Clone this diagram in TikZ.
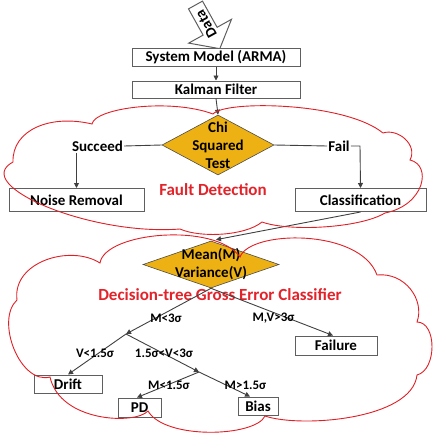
\documentclass[tikz,border=0pt]{standalone}
\usepackage{fontspec}
\setmainfont{Carlito}
\usetikzlibrary{shapes.geometric,arrows.meta,calc}
\definecolor{lnc}{HTML}{404040}
\definecolor{boxc}{HTML}{5F5F5F}
\definecolor{goldc}{HTML}{EDB113}
\definecolor{redc}{HTML}{E3232A}
\definecolor{cloudc}{HTML}{E01F25}
\begin{document}
\begin{tikzpicture}[x=1pt,y=-1pt,
  box/.style={draw=boxc, line width=1pt, fill=white, inner sep=0pt,
    font=\bfseries\fontsize{15}{18}\selectfont, text=black},
  conn/.style={draw=lnc, line width=0.9pt},
  arr/.style={conn, -{Triangle[length=5pt,width=5pt]}},
  lbl/.style={font=\bfseries\fontsize{15}{18}\selectfont, inner sep=1pt, text=black},
  sig/.style={font=\bfseries\fontsize{13}{15}\selectfont, inner sep=0pt, text=black},
  dia/.style={diamond, draw=black!70, line width=0.6pt, fill=goldc, inner sep=0pt},
  redt/.style={text=redc, font=\bfseries\fontsize{17}{20}\selectfont, inner sep=0pt},
  cloudline/.style={draw=cloudc, line width=0.9pt}]
\useasboundingbox (0,0) rectangle (433,436);

% Data block arrow
\draw[fill=white, draw=boxc, line width=1pt]
  (188.5,8.9) -- (202.5,1.1) -- (217.1,27.3) -- (231.5,19.3) -- (219.8,48.7)
  -- (188.7,43.1) -- (203.1,35.1) -- cycle;
\node[lbl, rotate=119] (data) at (206,24) {Data};

% top boxes
\node[box, minimum width=168pt, minimum height=17pt] (sys) at (216,57.5) {System Model (ARMA)};
\node[box, minimum width=168pt, minimum height=17pt] (kal) at (216,89.5) {Kalman Filter};

% chi squared diamond
\node[dia, minimum width=112pt, minimum height=60pt] (chi) at (218,145) {};
\node[lbl, align=center] (chit) at (218,145) {Chi\\Squared\\Test};

\node[lbl] (succ) at (97.5,146) {Succeed};
\node[lbl] (fail) at (339,146) {Fail};
\coordinate (failc) at (360,146);

\node[box, minimum width=135pt, minimum height=23pt] (noise) at (76.5,200) {Noise Removal};
\node[box, minimum width=131pt, minimum height=23pt] (cls) at (360.5,200) {Classification};

\node[redt] (fd) at (213,190) {Fault Detection};

% mean variance diamond
\node[dia, minimum width=136pt, minimum height=47pt] (mv) at (211,264.5) {};
\node[lbl, align=center] (mvt) at (211,264) {Mean(M)\\Variance(V)};
\node[redt] (dt) at (220,295) {Decision-tree Gross Error Classifier};

\coordinate (b1) at (126,334);
\coordinate (b2) at (199,372);

\node[box, minimum width=82pt, minimum height=19pt] (failure) at (336,345.5) {Failure};
\node[box, minimum width=68pt, minimum height=18pt] (drift) at (68,384) {Drift};
\node[box, minimum width=43pt, minimum height=19pt] (pd) at (139.5,407.5) {PD};
\node[box, minimum width=40pt, minimum height=18pt] (bias) at (258,406) {Bias};

% connectors
\draw[arr] (sys.south) -- (kal.north);
\draw[arr] (kal.south) -- (chi.north);
\draw[conn] (chi.west) -- (succ.east);
\draw[arr] (succ.south -| noise.north) -- (noise.north);
\draw[conn] (chi.east) -- (fail.west);
\draw[arr] (fail.east) -- (failc) -- (cls.north);
\draw[arr] (cls.south) -- ($(mv.north)+(5,-1)$);
\draw[arr] (mv.south) -- (b1);
\draw[arr] (mv.south) -- ($(failure.north)+(-3,0)$);
\draw[arr] (b1) -- (drift.north);
\draw[arr] (b1) -- (b2);
\draw[arr] (b2) -- ($(pd.north)+(-2.5,0)$);
\draw[arr] (b2) -- ($(bias.north)+(-8,0)$);

% branch labels
\node[sig] (l1) at (166,318) {M<3σ};
\node[sig] (l2) at (273.5,318) {M,V>3σ};
\node[sig] (l3) at (95,353) {V<1.5σ};
\node[sig] (l4) at (164,353) {1.5σ<V<3σ};
\node[sig] (l5) at (169,385) {M<1.5σ};
\node[sig] (l6) at (245.5,385) {M>1.5σ};

% cloud 1 (Fault Detection)
\draw[cloudline] (13,162)
  .. controls (12,130) and (50,114) .. (92,124)
  .. controls (95,108) and (170,98) .. (213,114)
  .. controls (225,100) and (345,102) .. (383,133)
  .. controls (398,128) and (418,145) .. (410,160)
  .. controls (432,165) and (425,205) .. (385,213)
  .. controls (360,228) and (290,232) .. (262,222)
  .. controls (245,236) and (200,238) .. (180,229)
  .. controls (90,236) and (-30,185) .. (13,162) -- cycle;

% cloud 2 (Decision tree)
\draw[cloudline] (17,300)
  .. controls (12,262) and (70,244) .. (100,263)
  .. controls (105,232) and (215,222) .. (240,257)
  .. controls (250,230) and (360,228) .. (377,275)
  .. controls (405,272) and (425,300) .. (417,322)
  .. controls (437,322) and (437,370) .. (417,375)
  .. controls (412,420) and (300,428) .. (265,416)
  .. controls (255,437) and (165,440) .. (148,411)
  .. controls (135,425) and (60,422) .. (50,377)
  .. controls (20,385) and (-5,320) .. (17,300) -- cycle;
\end{tikzpicture}
\end{document}
